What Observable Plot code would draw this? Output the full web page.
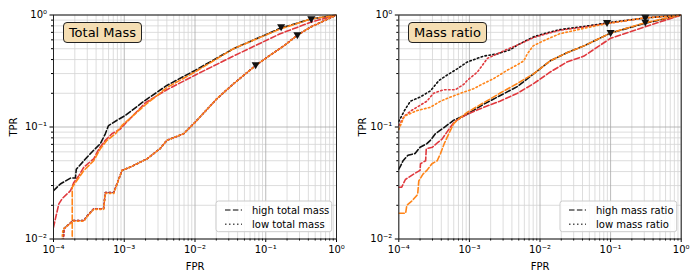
<!DOCTYPE html>
<html><head><meta charset="utf-8">
<script src="https://cdn.jsdelivr.net/npm/d3@7"></script>
<script src="https://cdn.jsdelivr.net/npm/@observablehq/plot@0.6"></script>
<style>
body{margin:0;background:#fff;font-family:"DejaVu Sans",sans-serif;}
#wrap{display:flex;width:700px;height:280px;}
.panel{position:relative;width:350px;height:280px;}
.tbox{position:absolute;background:#f5deb3;border:1px solid #222;border-radius:4px;font-size:13px;line-height:20px;text-align:center;box-sizing:border-box;color:#000;}
</style></head><body><div id="wrap"></div>
<script>
// ---- ticks / labels ----
const xTicks = [1e-4, 1e-3, 1e-2, 1e-1, 1];
const xTickLabels = ["10⁻⁴", "10⁻³", "10⁻²", "10⁻¹", "10⁰"];
const yTicks = [1e-2, 1e-1, 1];
const yTickLabels = ["10⁻²", "10⁻¹", "10⁰"];
const panelTitles = ["Total Mass", "Mass ratio"];
const legendLabels = [["high total mass", "low total mass"], ["high mass ratio", "low mass ratio"]];
const colorNames = ["black", "red", "orange"];
const colorValues = ["#111111", "#e0393e", "#ff8418"];

// ---- Total Mass panel ----
const tmHighBlackFpr = [1e-4, 1.25e-4, 1.74e-4, 2.04e-4, 2.1e-4, 3.0e-4, 3.7e-4, 4.6e-4, 5.4e-4, 6.0e-4, 7.9e-4, 1.04e-3, 1.9e-3, 4e-3, 1e-2, 0.035, 0.16, 0.43, 1];
const tmHighBlackTpr = [0.027, 0.031, 0.035, 0.035, 0.042, 0.054, 0.062, 0.071, 0.087, 0.103, 0.115, 0.127, 0.17, 0.235, 0.32, 0.50, 0.76, 0.92, 1];
const tmHighRedFpr = [1e-4, 1.05e-4, 1.19e-4, 1.33e-4, 1.74e-4, 1.94e-4, 2.3e-4, 2.7e-4, 3.7e-4, 4.4e-4, 5.4e-4, 6.7e-4, 8.8e-4, 1e-3, 2e-3, 4e-3, 1e-2, 0.035, 0.16, 0.43, 1];
const tmHighRedTpr = [0.0127, 0.0146, 0.0206, 0.023, 0.027, 0.032, 0.037, 0.044, 0.052, 0.064, 0.076, 0.087, 0.096, 0.105, 0.165, 0.215, 0.29, 0.43, 0.68, 0.86, 1];
const tmHighOrangeFpr = [1.84e-4, 1.84e-4, 2.05e-4, 2.7e-4, 3.7e-4, 4.6e-4, 5.7e-4, 7.5e-4, 9.4e-4, 2e-3, 4e-3, 1e-2, 0.035, 0.16, 0.43, 1];
const tmHighOrangeTpr = [0.009, 0.029, 0.032, 0.041, 0.05, 0.064, 0.076, 0.087, 0.104, 0.158, 0.225, 0.31, 0.50, 0.75, 0.92, 1];
const tmLowBlackFpr = [1.35e-4, 1.4e-4, 1.9e-4, 2.7e-4, 2.9e-4, 3.7e-4, 5.1e-4, 5.4e-4, 7.1e-4, 9.3e-4, 1.23e-3, 2.1e-3, 3.2e-3, 4e-3, 6.9e-3, 1e-2, 0.0206, 0.035, 0.049, 0.072, 0.105, 0.18, 0.28, 0.43, 1];
const tmLowBlackTpr = [0.009, 0.0124, 0.0146, 0.0146, 0.0157, 0.0186, 0.0186, 0.026, 0.026, 0.041, 0.044, 0.052, 0.064, 0.076, 0.087, 0.11, 0.18, 0.243, 0.29, 0.354, 0.42, 0.53, 0.66, 0.78, 1];
const tmLowRedFpr = [1.38e-4, 1.42e-4, 1.9e-4, 2.7e-4, 2.9e-4, 3.7e-4, 5.1e-4, 5.4e-4, 7.1e-4, 9.3e-4, 1.23e-3, 2.1e-3, 3.2e-3, 4e-3, 6.9e-3, 1e-2, 0.0206, 0.035, 0.049, 0.072, 0.105, 0.18, 0.28, 0.43, 1];
const tmLowRedTpr = [0.009, 0.0124, 0.0146, 0.0146, 0.0157, 0.0186, 0.0186, 0.026, 0.026, 0.041, 0.044, 0.052, 0.064, 0.076, 0.087, 0.11, 0.18, 0.243, 0.29, 0.354, 0.42, 0.53, 0.66, 0.78, 1];
const tmLowOrangeFpr = [1.3e-4, 1.36e-4, 1.9e-4, 2.7e-4, 2.9e-4, 3.7e-4, 5.1e-4, 5.4e-4, 7.1e-4, 9.3e-4, 1.23e-3, 2.1e-3, 3.2e-3, 4e-3, 6.9e-3, 1e-2, 0.0206, 0.035, 0.049, 0.072, 0.105, 0.18, 0.28, 0.43, 1];
const tmLowOrangeTpr = [0.009, 0.0122, 0.0144, 0.0144, 0.0155, 0.0184, 0.0184, 0.0255, 0.0255, 0.041, 0.044, 0.052, 0.064, 0.076, 0.087, 0.11, 0.18, 0.243, 0.29, 0.354, 0.42, 0.53, 0.66, 0.78, 1];
const tmMarkerFpr = [0.165, 0.44, 0.072, 0.28];
const tmMarkerTpr = [0.79, 0.93, 0.36, 0.67];

// ---- Mass ratio panel ----
const mrHighBlackFpr = [1e-4, 1.06e-4, 1.15e-4, 1.35e-4, 1.7e-4, 2.0e-4, 2.5e-4, 2.8e-4, 3.3e-4, 4.1e-4, 6e-4, 9.3e-4, 1.6e-3, 2.7e-3, 4.8e-3, 8.2e-3, 0.014, 0.024, 0.042, 0.1, 0.3, 1];
const mrHighBlackTpr = [0.042, 0.045, 0.050, 0.056, 0.058, 0.066, 0.071, 0.076, 0.087, 0.096, 0.115, 0.13, 0.16, 0.19, 0.23, 0.30, 0.39, 0.46, 0.53, 0.69, 0.84, 1];
const mrHighRedFpr = [1e-4, 1.1e-4, 1.24e-4, 1.63e-4, 2.0e-4, 2.03e-4, 2.4e-4, 2.45e-4, 3.0e-4, 3.5e-4, 4.1e-4, 4.8e-4, 5.4e-4, 6.2e-4, 9.3e-4, 1.6e-3, 2.7e-3, 4.8e-3, 8.2e-3, 0.014, 0.024, 0.042, 0.1, 0.3, 1];
const mrHighRedTpr = [0.029, 0.029, 0.034, 0.038, 0.041, 0.047, 0.05, 0.064, 0.066, 0.072, 0.078, 0.09, 0.1, 0.112, 0.13, 0.15, 0.17, 0.20, 0.245, 0.31, 0.38, 0.43, 0.62, 0.78, 1];
const mrHighOrangeFpr = [1e-4, 1.25e-4, 1.3e-4, 1.55e-4, 1.85e-4, 1.92e-4, 2.2e-4, 2.5e-4, 2.95e-4, 3.5e-4, 3.9e-4, 4.4e-4, 5.1e-4, 6e-4, 6.7e-4, 9.3e-4, 1.6e-3, 2.7e-3, 4.8e-3, 8.2e-3, 0.014, 0.024, 0.042, 0.1, 0.3, 1];
const mrHighOrangeTpr = [0.017, 0.017, 0.020, 0.022, 0.025, 0.033, 0.038, 0.041, 0.047, 0.050, 0.058, 0.071, 0.087, 0.107, 0.115, 0.135, 0.165, 0.20, 0.245, 0.30, 0.39, 0.46, 0.53, 0.69, 0.85, 1];
const mrLowBlackFpr = [1e-4, 1.2e-4, 1.46e-4, 2.0e-4, 2.8e-4, 3.7e-4, 4.8e-4, 6.7e-4, 9.3e-4, 1.6e-3, 2.5e-3, 3.8e-3, 4.8e-3, 8.2e-3, 0.0113, 0.019, 0.042, 0.089, 0.3, 1];
const mrLowBlackTpr = [0.112, 0.14, 0.17, 0.185, 0.21, 0.26, 0.29, 0.33, 0.38, 0.43, 0.45, 0.49, 0.54, 0.64, 0.68, 0.74, 0.79, 0.85, 0.94, 1];
const mrLowRedFpr = [1e-4, 1.2e-4, 1.5e-4, 1.8e-4, 2.5e-4, 3.1e-4, 4.3e-4, 6.3e-4, 8.3e-4, 9.3e-4, 1.3e-3, 1.8e-3, 3.1e-3, 4.8e-3, 8.2e-3, 0.0113, 0.019, 0.042, 0.089, 0.3, 1];
const mrLowRedTpr = [0.103, 0.125, 0.14, 0.15, 0.17, 0.20, 0.215, 0.215, 0.24, 0.26, 0.31, 0.41, 0.48, 0.54, 0.63, 0.67, 0.73, 0.78, 0.84, 0.94, 1];
const mrLowOrangeFpr = [1e-4, 1.2e-4, 1.8e-4, 2.8e-4, 3.9e-4, 5.4e-4, 7.5e-4, 1.15e-3, 1.6e-3, 2.2e-3, 3.4e-3, 4.8e-3, 5.9e-3, 6.6e-3, 8e-3, 0.0113, 0.019, 0.042, 0.089, 0.3, 1];
const mrLowOrangeTpr = [0.095, 0.125, 0.14, 0.15, 0.17, 0.185, 0.20, 0.22, 0.245, 0.27, 0.32, 0.36, 0.39, 0.45, 0.53, 0.59, 0.68, 0.76, 0.84, 0.94, 1];
const mrMarkerFpr = [0.089, 0.31, 0.1, 0.31];
const mrMarkerTpr = [0.86, 0.96, 0.70, 0.87];

// minor ticks (axis decoration)
const minorX = [], minorY = [];
for (const d of [1e-4, 1e-3, 1e-2, 1e-1]) for (let k = 2; k <= 9; k++) minorX.push(k * d);
for (const d of [1e-2, 1e-1]) for (let k = 2; k <= 9; k++) minorY.push(k * d);

const rows = (f, t) => f.map((v, i) => ({fpr: v, tpr: t[i]}));

const panels = [
  {title: panelTitles[0], legend: legendLabels[0], ml: 53, mr: 14, box: [63.3, 21.7, 78.4, 21.6], leg: [216, 201, 115.7, 30.7], ylo: 44,
   series: [
     {f: tmHighBlackFpr, t: tmHighBlackTpr, c: 0, s: "high"},
     {f: tmHighRedFpr, t: tmHighRedTpr, c: 1, s: "high"},
     {f: tmHighOrangeFpr, t: tmHighOrangeTpr, c: 2, s: "high"},
     {f: tmLowBlackFpr, t: tmLowBlackTpr, c: 0, s: "low"},
     {f: tmLowRedFpr, t: tmLowRedTpr, c: 1, s: "low"},
     {f: tmLowOrangeFpr, t: tmLowOrangeTpr, c: 2, s: "low"}],
   markers: rows(tmMarkerFpr, tmMarkerTpr)},
  {title: panelTitles[1], legend: legendLabels[1], ml: 48.3, mr: 19.3, box: [58.3, 21.7, 78.4, 21.6], leg: [210, 201, 116.7, 30.7], ylo: 40,
   series: [
     {f: mrHighBlackFpr, t: mrHighBlackTpr, c: 0, s: "high"},
     {f: mrHighRedFpr, t: mrHighRedTpr, c: 1, s: "high"},
     {f: mrHighOrangeFpr, t: mrHighOrangeTpr, c: 2, s: "high"},
     {f: mrLowBlackFpr, t: mrLowBlackTpr, c: 0, s: "low"},
     {f: mrLowRedFpr, t: mrLowRedTpr, c: 1, s: "low"},
     {f: mrLowOrangeFpr, t: mrLowOrangeTpr, c: 2, s: "low"}],
   markers: rows(mrMarkerFpr, mrMarkerTpr)}
];

const dashFor = s => s === "high" ? "5.5,2.4" : "1.5,2.5";
const wrap = document.getElementById("wrap");

for (const p of panels) {
  const lineMarks = p.series.map(s => Plot.line(rows(s.f, s.t), {
    x: "fpr", y: "tpr", stroke: colorValues[s.c], strokeWidth: 1.6,
    strokeDasharray: dashFor(s.s), clip: true
  }));
  const chart = Plot.plot({
    width: 350, height: 280,
    marginLeft: p.ml, marginRight: p.mr, marginTop: 14.5, marginBottom: 41.5,
    style: {fontFamily: "DejaVu Sans", fontSize: "10px", color: "#000", background: "#fff", overflow: "visible"},
    x: {type: "log", domain: [1e-4, 1]},
    y: {type: "log", domain: [1e-2, 1]},
    marks: [
      Plot.ruleX(minorX, {stroke: "#d4d4d4", strokeWidth: 0.8}),
      Plot.ruleY(minorY, {stroke: "#d4d4d4", strokeWidth: 0.8}),
      Plot.ruleX(xTicks, {stroke: "#a8a8a8", strokeWidth: 0.8}),
      Plot.ruleY(yTicks, {stroke: "#a8a8a8", strokeWidth: 0.8}),
      ...lineMarks,
      Plot.dot(p.markers, {x: "fpr", y: "tpr", symbol: "triangle", rotate: 180, r: 3, fill: "#111", stroke: "none"}),
      Plot.axisX(minorX, {tickSize: 2, tickFormat: () => "", label: null}),
      Plot.axisY(minorY, {tickSize: 2, tickFormat: () => "", label: null}),
      Plot.axisX(xTicks, {tickSize: 3.5, tickPadding: 3, tickFormat: d => xTickLabels[xTicks.indexOf(d)],
        label: "FPR", labelAnchor: "center", labelArrow: "none", labelOffset: 31}),
      Plot.axisY(yTicks, {tickSize: 3.5, tickPadding: 3, tickFormat: d => yTickLabels[yTicks.indexOf(d)],
        label: "TPR", labelAnchor: "center", labelArrow: "none", labelOffset: p.ylo}),
      Plot.frame({stroke: "#222", strokeWidth: 1})
    ]
  });
  const div = document.createElement("div");
  div.className = "panel";
  div.appendChild(chart);
  // title box
  const tb = document.createElement("div");
  tb.className = "tbox";
  tb.textContent = p.title;
  tb.style.left = p.box[0] + "px"; tb.style.top = p.box[1] + "px";
  tb.style.width = p.box[2] + "px"; tb.style.height = p.box[3] + "px";
  div.appendChild(tb);
  // legend
  const svg = d3.select(chart);
  const [lx, ly, lw, lh] = p.leg;
  const g = svg.append("g").attr("transform", `translate(${lx},${ly})`);
  g.append("rect").attr("width", lw).attr("height", lh).attr("rx", 2.5)
    .attr("fill", "#fff").attr("fill-opacity", 0.85).attr("stroke", "#cccccc").attr("stroke-width", 1);
  ["high", "low"].forEach((s, i) => {
    const yy = 9 + i * 14.3;
    g.append("line").attr("x1", 9).attr("x2", 26).attr("y1", yy).attr("y2", yy)
      .attr("stroke", "#555").attr("stroke-width", 1.6).attr("stroke-dasharray", dashFor(s));
    g.append("text").attr("x", 36).attr("y", yy).attr("dy", "0.35em").attr("text-anchor", "start")
      .attr("font-size", 10).attr("font-family", "DejaVu Sans").attr("fill", "#000").text(p.legend[i]);
  });
  wrap.appendChild(div);
}
</script></body></html>
